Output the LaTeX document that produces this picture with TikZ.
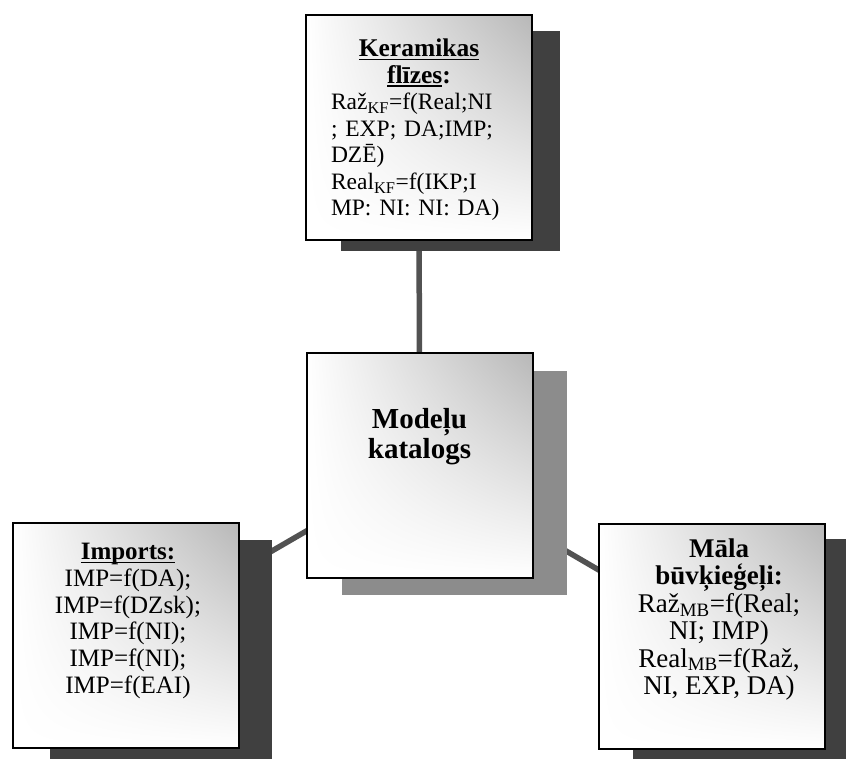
\documentclass[tikz,border=0pt]{standalone}
\usepackage{fontspec}
\setmainfont{Liberation Serif}
\usetikzlibrary{shadings}
\pgfdeclarelayer{bg}
\pgfdeclarelayer{lines}
\pgfdeclarelayer{shadows}
\pgfsetlayers{bg,lines,shadows,main}
\definecolor{shadowdark}{gray}{0.25}
\definecolor{shadowlight}{gray}{0.55}
\definecolor{connc}{gray}{0.32}
\newcommand{\myul}[1]{\setbox0\hbox{#1}\rlap{\rule[-3.5pt]{\wd0}{1.4pt}}\box0}
\tikzset{
  box/.style={draw=black, line width=2pt, minimum width=226pt, minimum height=225pt,
    inner sep=0pt, outer sep=0pt,
    upper right=black!28, upper left=white, lower left=white, lower right=white},
  boxtext/.style={inner sep=0pt, anchor=north, font=\fontsize{25}{26.8}\selectfont},
  conn/.style={draw=connc, line width=5.5pt},
  shadowd/.style={fill=shadowdark},
  shadowl/.style={fill=shadowlight},
}
\begin{document}
\begin{tikzpicture}[x=1pt,y=1pt]
\useasboundingbox (0,0) rectangle (846,-758);
\begin{pgfonlayer}{bg}
\fill[white] (0,0) rectangle (846,-758);
\end{pgfonlayer}

% boxes
\node[box] (kf) at (419,-127.5) {};
\node[box] (mk) at (419.5,-465.5) {};
\node[box] (imp) at (126,-635.5) {};
\node[box] (mb) at (712,-636) {};

% shadows
\begin{pgfonlayer}{shadows}
\fill[shadowd] ([xshift=35pt,yshift=-16pt]kf.north west) rectangle ([xshift=28pt,yshift=-11pt]kf.south east);
\fill[shadowl] ([xshift=35pt,yshift=-18pt]mk.north west) rectangle ([xshift=34pt,yshift=-17pt]mk.south east);
\fill[shadowd] ([xshift=37pt,yshift=-17pt]imp.north west) rectangle ([xshift=33pt,yshift=-16pt]imp.south east);
\fill[shadowd] ([xshift=34pt,yshift=-15pt]mb.north west) rectangle ([xshift=30pt,yshift=-16pt]mb.south east);
\end{pgfonlayer}

% connectors
\begin{pgfonlayer}{lines}
\draw[conn] (kf.center) -- (mk.center);
\draw[conn] (mk.center) -- (imp.center);
\draw[conn] (mk.center) -- (mb.center);
\end{pgfonlayer}

% texts
\node[boxtext, font=\fontsize{23.5}{26.5}\selectfont, text width=176pt, align=left] (kft) at ([yshift=-24pt]kf.north)
{\makebox[176pt]{\fontsize{25.5}{26.5}\selectfont\myul{\textbf{Keramikas}}}\\
 \makebox[176pt]{\fontsize{25.5}{26.5}\selectfont\myul{\textbf{flīzes}}\textbf{:}}\\
 Raž\textsubscript{KF}=f(Real;NI\\
 ; EXP; DA;IMP;\\
 DZĒ)\\
 Real\textsubscript{KF}=f(IKP;I\\
 MP: NI: NI: DA)};

\node[boxtext, font=\fontsize{29}{30}\selectfont\bfseries, align=center] (mkt) at ([yshift=-55pt]mk.north)
{Modeļu\\katalogs};

\node[boxtext, align=center] (impt) at ([xshift=2pt,yshift=-20pt]imp.north)
{\myul{\textbf{Imports:}}\\
 IMP=f(DA);\\
 IMP=f(DZsk);\\
 IMP=f(NI);\\
 IMP=f(NI);\\
 IMP=f(EAI)};

\node[boxtext, font=\fontsize{27}{27.4}\selectfont, align=center] (mbt) at ([xshift=7pt,yshift=-15pt]mb.north)
{\textbf{Māla}\\
 \textbf{būvķieģeļi:}\\
 Raž\textsubscript{MB}=f(Real;\\
 NI; IMP)\\
 Real\textsubscript{MB}=f(Raž,\\
 NI, EXP, DA)};
\end{tikzpicture}
\end{document}
